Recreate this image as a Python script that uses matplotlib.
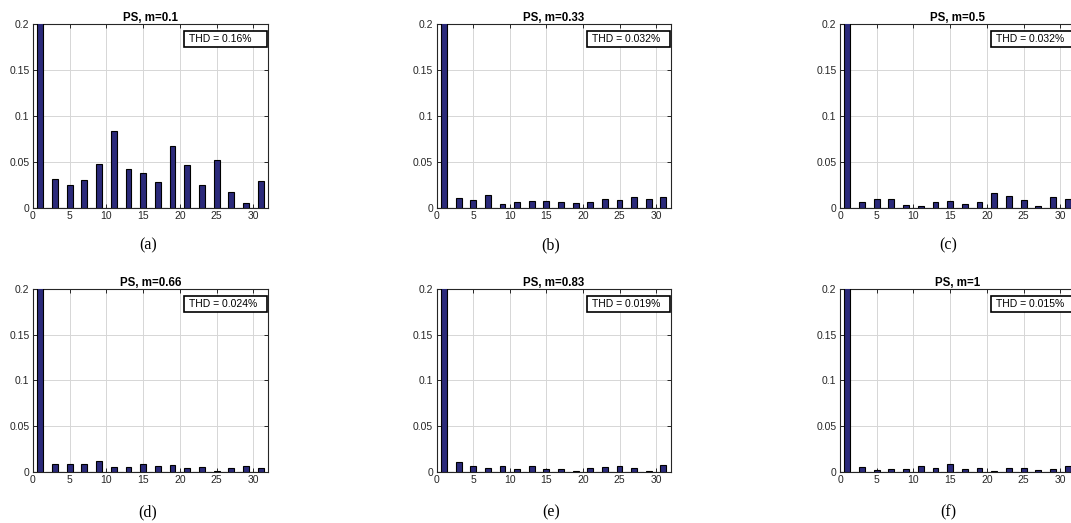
import numpy as np
import matplotlib
matplotlib.use('Agg')
import matplotlib.pyplot as plt
from matplotlib.patches import Rectangle

# harmonic order 0..31, only odd orders carry content
harmonics = np.arange(0, 32)
odd_orders = [3, 5, 7, 9, 11, 13, 15, 17, 19, 21, 23, 25, 27, 29, 31]

m_values = ['0.1', '0.33', '0.5', '0.66', '0.83', '1']
thd_labels = ['0.16%', '0.032%', '0.032%', '0.024%', '0.019%', '0.015%']
captions = ['(a)', '(b)', '(c)', '(d)', '(e)', '(f)']

# amplitudes of odd harmonics 3..31 (fundamental = 1, clipped by the axis)
odd_m010 = [0.0315, 0.0254, 0.0308, 0.0475, 0.0837, 0.0424, 0.0384, 0.0283,
            0.0678, 0.0467, 0.0254, 0.0518, 0.0170, 0.0050, 0.0297]
odd_m033 = [0.0112, 0.0090, 0.0141, 0.0043, 0.0069, 0.0080, 0.0076, 0.0069,
            0.0058, 0.0065, 0.0098, 0.0083, 0.0123, 0.0094, 0.0116]
odd_m050 = [0.0069, 0.0101, 0.0098, 0.0033, 0.0025, 0.0065, 0.0076, 0.0040,
            0.0062, 0.0167, 0.0127, 0.0090, 0.0025, 0.0123, 0.0101]
odd_m066 = [0.0084, 0.0084, 0.0088, 0.0117, 0.0051, 0.0055, 0.0084, 0.0062,
            0.0077, 0.0040, 0.0051, 0.0004, 0.0040, 0.0066, 0.0040]
odd_m083 = [0.0102, 0.0062, 0.0040, 0.0062, 0.0029, 0.0066, 0.0029, 0.0029,
            0.0011, 0.0040, 0.0047, 0.0058, 0.0040, 0.0004, 0.0073]
odd_m100 = [0.0051, 0.0018, 0.0026, 0.0029, 0.0058, 0.0040, 0.0084, 0.0029,
            0.0040, 0.0007, 0.0044, 0.0036, 0.0018, 0.0026, 0.0062]
fundamental = 1.0

all_odd = [odd_m010, odd_m033, odd_m050, odd_m066, odd_m083, odd_m100]

W, H = 1071, 523
fig = plt.figure(figsize=(W / 100, H / 100), dpi=100)

# axes boxes in pixels: left, top, width, height
col_left = [33, 436.7, 840]
col_width = [235, 234, 235]
row_top = [24, 289]
row_height = [184, 182.7]
cap_x = [148, 551, 948]
cap_y = [245, 512]

bar_color = '#2b2a7a'
txt_color = '#262626'

for k in range(6):
    r, c = divmod(k, 3)
    l = col_left[c] / W
    b = 1 - (row_top[r] + row_height[r]) / H
    ax = fig.add_axes([l, b, col_width[c] / W, row_height[r] / H])

    amps = np.zeros(len(harmonics))
    amps[1] = fundamental
    for h, v in zip(odd_orders, all_odd[k]):
        amps[h] = v

    ax.bar(harmonics, amps, width=0.8, color=bar_color, edgecolor='black',
           linewidth=0.8, zorder=3)
    ax.set_xlim(0, 32)
    ax.set_ylim(0, 0.2)
    ax.set_xticks([0, 5, 10, 15, 20, 25, 30])
    ax.set_yticks([0, 0.05, 0.1, 0.15, 0.2])
    ax.set_yticklabels(['0', '0.05', '0.1', '0.15', '0.2'])
    ax.grid(True, color='#d6d6d6', linewidth=0.7, zorder=0)
    ax.tick_params(direction='in', top=True, right=True, length=3,
                   width=0.7, labelsize=7.5, colors=txt_color, pad=2.5)
    for lab in ax.get_xticklabels() + ax.get_yticklabels():
        lab.set_fontfamily('Liberation Sans')
    for sp in ax.spines.values():
        sp.set_linewidth(0.8)
        sp.set_color(txt_color)

    ax.set_title(f'PS, m={m_values[k]}', fontsize=8.3, fontweight='bold',
                 family='Liberation Sans', pad=2.5, color='black')

    # THD box (fixed size, text left aligned), in pixels
    ax_right = col_left[c] + col_width[c]
    bx0, bx1 = ax_right - 84, ax_right - 1
    by0, by1 = row_top[r] + 7, row_top[r] + 23
    fig.add_artist(Rectangle((bx0 / W, 1 - by1 / H), (bx1 - bx0) / W,
                             (by1 - by0) / H, transform=fig.transFigure,
                             facecolor='white', edgecolor='black',
                             linewidth=1.2, zorder=5))
    fig.text((bx0 + 5) / W, 1 - (by0 + by1) / 2 / H, f'THD = {thd_labels[k]}',
             ha='left', va='center', fontsize=7.5, family='Liberation Sans',
             zorder=6)

    fig.text(cap_x[c] / W, 1 - cap_y[r] / H, captions[k], ha='center',
             va='center', fontsize=11.5, family='Liberation Serif')

fig.savefig('out.png', dpi=100)
